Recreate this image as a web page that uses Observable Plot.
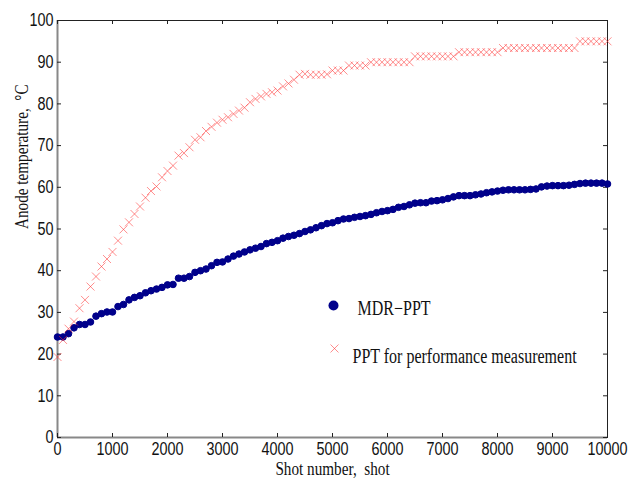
<!DOCTYPE html>
<html><head><meta charset="utf-8">
<script src="https://cdn.jsdelivr.net/npm/d3@7"></script>
<script src="https://cdn.jsdelivr.net/npm/@observablehq/plot@0.6"></script>
<style>
body{margin:0;background:#fff;}
#chart svg{display:block;}
</style></head><body><div id="chart"></div>
<script>
const shots = d3.range(0, 10001, 100);
const mdrPPT = [24.1,24.1,24.9,26.3,27.1,27.1,27.7,29.1,29.7,30.1,
30.1,31.4,31.9,33.0,33.6,34.0,34.7,35.2,35.6,36.0,
36.6,36.7,38.2,38.2,38.6,39.6,40.0,40.4,41.2,42.0,
42.1,42.8,43.5,44.0,44.5,45.0,45.4,45.8,46.5,46.8,
47.2,47.8,48.2,48.5,48.9,49.4,49.8,50.3,50.8,51.3,
51.5,52.0,52.4,52.5,52.8,53.0,53.2,53.5,53.9,54.2,
54.4,54.7,55.2,55.4,55.8,56.2,56.3,56.3,56.7,56.8,
57.0,57.3,57.7,58.0,58.0,58.0,58.2,58.4,58.7,58.9,
59.1,59.3,59.4,59.4,59.4,59.4,59.5,59.6,60.1,60.3,
60.4,60.4,60.4,60.5,60.7,60.9,61.0,61.0,61.0,61.0,
60.8];
const perfPPT = [19.3,23.4,26.1,27.8,31.0,33.0,36.2,38.6,41.0,42.8,
44.5,47.2,49.9,51.6,53.6,55.4,57.5,59.1,60.2,62.4,
63.9,65.2,67.6,68.2,69.6,71.4,72.0,73.5,74.5,75.5,
76.2,76.8,77.6,78.4,79.1,80.4,81.2,81.8,82.4,82.8,
83.2,84.2,84.9,85.8,87.0,87.2,87.0,87.0,87.0,87.1,
88.0,88.0,88.0,89.2,89.2,89.2,89.2,90.0,90.0,90.0,
90.0,90.0,90.0,90.0,90.0,91.4,91.4,91.4,91.4,91.4,
91.4,91.4,91.4,92.4,92.4,92.4,92.4,92.4,92.4,92.4,
92.4,93.4,93.4,93.4,93.4,93.4,93.4,93.4,93.4,93.4,
93.4,93.4,93.4,93.4,93.4,95.0,95.0,95.0,95.0,95.0,
95.0];
const xTicks = [0,1000,2000,3000,4000,5000,6000,7000,8000,9000,10000];
const yTicks = [0,10,20,30,40,50,60,70,80,90,100];
const seriesNames = ["MDR\u2212PPT", "PPT for performance measurement"];
const xLabel = "Shot number,  shot";
const yLabel = "Anode temperature,  \u00B0C";

const data = shots.map((s, i) => ({shot: s, mdr: mdrPPT[i], perf: perfPPT[i]}));
const serif = "'Liberation Serif','Times New Roman',serif";
const sans = "'Liberation Sans',Arial,sans-serif";
const blue = "#00008b";
const red = "#ff3030";
const W = 644, H = 487, mL = 57, mR = 37, mT = 20, mB = 50;
const pw = W - mL - mR, ph = H - mT - mB, tk = 4;

const chart = Plot.plot({
  width: W, height: H,
  marginLeft: mL, marginRight: mR, marginTop: mT, marginBottom: mB,
  x: {domain: [0, 10000], label: null, axis: null},
  y: {domain: [0, 100], label: null, axis: null},
  style: {background: "#fff", fontFamily: sans, fontSize: "18px", color: "#111"},
  marks: [
    Plot.frame({stroke: "#222", strokeWidth: 1}),
    Plot.ruleY([0], {stroke: "#888", strokeWidth: 2}),
    Plot.ruleX([0], {stroke: "#888", strokeWidth: 2}),
    // inward ticks on all four sides
    Plot.tickX(xTicks, {x: d => d, insetTop: ph - tk, stroke: "#222"}),
    Plot.tickX(xTicks, {x: d => d, insetBottom: ph - tk, stroke: "#222"}),
    Plot.tickY(yTicks, {y: d => d, insetRight: pw - tk, stroke: "#222"}),
    Plot.tickY(yTicks, {y: d => d, insetLeft: pw - tk, stroke: "#222"}),
    // tick labels
    Plot.text(xTicks, {x: d => d, frameAnchor: "bottom", dy: 17, text: d => String(d), fontFamily: sans, fontSize: 18, fill: "#111", className: "squeeze"}),
    Plot.text(yTicks, {y: d => d, frameAnchor: "left", dx: -4, textAnchor: "end", text: d => String(d), fontFamily: sans, fontSize: 18, fill: "#111", className: "squeeze"}),
    // axis titles
    Plot.text([xLabel], {frameAnchor: "bottom", dy: 37, text: d => d, fontFamily: serif, fontSize: 19, fill: "#111", className: "squeeze"}),
    Plot.text([yLabel], {frameAnchor: "left", dx: -36, rotate: -90, text: d => d, fontFamily: serif, fontSize: 19, fill: "#111", className: "squeeze"}),
    // data
    Plot.dot(data, {x: "shot", y: "mdr", r: 3.3, fill: blue, stroke: blue, strokeWidth: 1}),
    Plot.dot(data, {x: "shot", y: "perf", symbol: "times", r: 3.7, stroke: red, strokeOpacity: 0.55, strokeWidth: 1}),
    // legend
    Plot.dot([seriesNames[0]], {frameAnchor: "top-left", dx: 276, dy: 285, r: 5, fill: blue}),
    Plot.text([seriesNames[0]], {frameAnchor: "top-left", dx: 300, dy: 280, text: d => d, textAnchor: "start", fontFamily: serif, fontSize: 20, fill: "#111", className: "squeeze"}),
    Plot.dot([seriesNames[1]], {frameAnchor: "top-left", dx: 277, dy: 328, symbol: "times", r: 3.7, stroke: red, strokeOpacity: 0.55, strokeWidth: 1}),
    Plot.text([seriesNames[1]], {frameAnchor: "top-left", dx: 295, dy: 328, text: d => d, textAnchor: "start", fontFamily: serif, fontSize: 20, fill: "#111", className: "squeeze"})
  ]
});
document.getElementById("chart").appendChild(chart);
// horizontally condense text glyphs (the reference is compressed horizontally)
chart.querySelectorAll(".squeeze text").forEach(t => {
  const w = t.getComputedTextLength();
  if (w > 0) {
    t.setAttribute("textLength", (w * 0.8).toFixed(2));
    t.setAttribute("lengthAdjust", "spacingAndGlyphs");
  }
});
</script>
</body></html>
